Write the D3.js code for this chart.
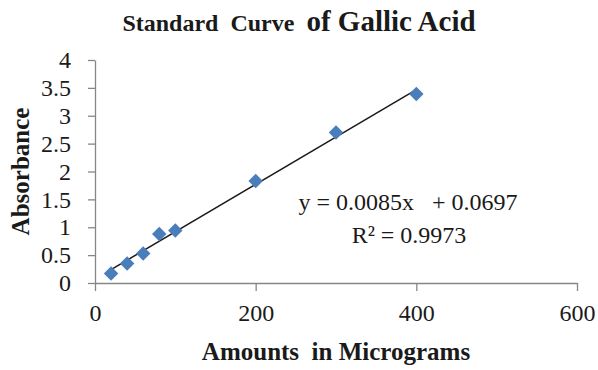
<!DOCTYPE html>
<html>
<head>
<meta charset="utf-8">
<script src="https://cdn.jsdelivr.net/npm/d3@7"></script>
<style>
  html, body { margin: 0; padding: 0; background: #fff; }
  svg { display: block; font-family: "Liberation Serif", "Times New Roman", serif; }
</style>
</head>
<body>
<svg id="chart" width="598" height="370"></svg>
<script>
// ---- data ----
const amounts = [20, 40, 60, 80, 100, 200, 300, 400];
const absorbance = [0.17, 0.35, 0.53, 0.88, 0.94, 1.83, 2.70, 3.39];
const xTicks = [0, 200, 400, 600];
const yTicks = [0, 0.5, 1, 1.5, 2, 2.5, 3, 3.5, 4];
const slope = 0.0085;
const intercept = 0.0697;
const eqText = "y = 0.0085x   + 0.0697";
const r2Text = "R² = 0.9973";

const svg = d3.select("#chart");
const axisColor = "#868686";
const textColor = "#1a1a1a";
const serif = '"Liberation Serif", "Times New Roman", serif';

const x = d3.scaleLinear().domain([0, 600]).range([95, 577]);
const y = d3.scaleLinear().domain([0, 4]).range([283, 60]);

// axes
const xAxis = svg.append("g").attr("transform", `translate(0,${y(0)})`)
  .call(d3.axisBottom(x).tickValues(xTicks).tickSize(8).tickPadding(13).tickSizeOuter(0));
const yAxis = svg.append("g").attr("transform", `translate(${x(0)},0)`)
  .call(d3.axisLeft(y).tickValues(yTicks).tickSize(7).tickPadding(17).tickSizeOuter(0)
    .tickFormat(d => String(d)));
[xAxis, yAxis].forEach(g => {
  g.attr("font-family", serif).attr("font-size", 24);
  g.select(".domain").attr("stroke", axisColor).attr("stroke-width", 1.3);
  g.selectAll(".tick line").attr("stroke", axisColor).attr("stroke-width", 1.3);
  g.selectAll(".tick text").attr("fill", textColor);
});

// trendline
const xMin = d3.min(amounts), xMax = d3.max(amounts);
svg.append("line")
  .attr("x1", x(xMin)).attr("y1", y(slope * xMin + intercept))
  .attr("x2", x(xMax)).attr("y2", y(slope * xMax + intercept))
  .attr("stroke", "#1a1a1a").attr("stroke-width", 1.5);

// markers (diamonds)
const sym = d3.symbol().type(d3.symbolSquare).size(105);
svg.append("g").selectAll("path")
  .data(amounts.map((a, i) => [a, absorbance[i]]))
  .join("path")
  .attr("d", sym)
  .attr("transform", d => `translate(${x(d[0])},${y(d[1])}) rotate(45)`)
  .attr("fill", "#4a7ebb");

// title
const title = svg.append("text").attr("x", 299).attr("y", 31)
  .attr("text-anchor", "middle").attr("font-weight", "bold").attr("fill", textColor)
  .style("white-space", "pre");
title.append("tspan").attr("font-size", "24px").text("Standard  Curve  ");
title.append("tspan").attr("font-size", "29px").text("of Gallic Acid");

// axis titles
svg.append("text").attr("x", (x(0) + x(600)) / 2).attr("y", 360)
  .attr("text-anchor", "middle").attr("font-weight", "bold").attr("font-size", "25px")
  .attr("fill", textColor).style("white-space", "pre")
  .text("Amounts  in Micrograms");
svg.append("text")
  .attr("transform", `translate(29,${(y(0) + y(4)) / 2}) rotate(-90)`)
  .attr("text-anchor", "middle").attr("font-weight", "bold").attr("font-size", "25px")
  .attr("fill", textColor)
  .text("Absorbance");

// equation
svg.append("text").attr("x", 408).attr("y", 210).attr("text-anchor", "middle")
  .attr("font-size", "24px").attr("fill", textColor).style("white-space", "pre")
  .text(eqText);
svg.append("text").attr("x", 409).attr("y", 243).attr("text-anchor", "middle")
  .attr("font-size", "24px").attr("fill", textColor)
  .text(r2Text);
</script>
</body>
</html>
